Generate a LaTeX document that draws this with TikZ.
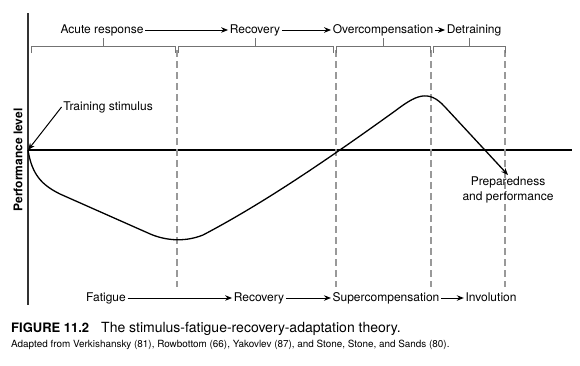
\documentclass[tikz,border=0pt]{standalone}
\usepackage{fontspec}
\setmainfont{TeX Gyre Heros}
\usetikzlibrary{arrows.meta,positioning}

\begin{document}
\begin{tikzpicture}
  [x=1pt,y=-1pt,
   every node/.style={inner sep=1.5pt,font=\fontsize{12}{15}\selectfont},
   phase/.style={text height=9pt,text depth=3pt},
   guide/.style={draw=black!40,line width=1.1pt,dash pattern=on 7pt off 4pt},
   bracket/.style={draw=black!55,line width=1pt},
   link/.style={-{Stealth[length=7pt,width=5.5pt]},line width=1pt},
   curve/.style={line width=1.3pt}]
  \useasboundingbox (0,0) rectangle (580,365);
  % axes
  \coordinate (top) at (28,13);
  \coordinate (bottom) at (28,305);
  \coordinate (origin) at (28,150);
  \coordinate (far) at (572,150);
  \draw[line width=1.8pt,black!80] (top) -- (bottom);
  \draw[line width=1.2pt] (origin) -- (far);
  \node[rotate=90,font=\fontsize{12}{15}\selectfont\bfseries] (ylab) at (18,160) {Performance level};

  % phase boundaries and brackets
  \foreach \x in {177,336,431,505}
    \draw[guide] (\x,50) -- (\x,287);
  \foreach \a/\b in {31/175,178/333,336/430,433/505}
    \draw[bracket] (\a,53) |- (\b,46) -- (\b,53) ({(\a+\b)/2},46) -- ({(\a+\b)/2},38);

  % upper sequence
  \node[phase] (acute) at (102,30) {Acute response};
  \node[phase] (rec1) at (255,30) {Recovery};
  \node[phase] (over) at (383,30) {Overcompensation};
  \node[phase] (detr) at (474,30) {Detraining};
  % lower sequence
  \node[phase] (fatigue) at (106,298) {Fatigue};
  \node[phase] (rec2) at (259,298) {Recovery};
  \node[phase] (super) at (386,298) {Supercompensation};
  \node[phase] (invol) at (491,298) {Involution};
  \foreach \from/\to in {acute/rec1,rec1/over,over/detr,fatigue/rec2,rec2/super,super/invol}
    \draw[link] (\from) -- (\to);

  % stimulus and response curve
  \node[phase] (stim) at (108,107) {Training stimulus};
  \draw[link] (stim.west) -- (origin);
  \node[align=center,anchor=north] (prep) at (508,175) {Preparedness\\and performance};
  \draw[curve,-{Stealth[length=7pt,width=5.5pt]}] (origin)
    .. controls (32,175) and (42,185) .. (60,194) -- (148,233)
    .. controls (163,240) and (183,243) .. (203,235)
    .. controls (260,205) and (320,165) .. (395,111)
    .. controls (415,96) and (428,88) .. (445,107) -- (prep.north);

  % caption
  \node[anchor=base west,inner sep=0pt,font=\fontsize{13}{15}\selectfont\bfseries] (fig) at (11,332) {FIGURE 11.2};
  \node[anchor=base west,inner sep=0pt,font=\fontsize{14}{16}\selectfont] (title) at (101,332) {The stimulus-fatigue-recovery-adaptation theory.};
  \node[anchor=base west,inner sep=0pt,font=\fontsize{9.9}{11}\selectfont] (source) at (11,347) {Adapted from Verkishansky (81), Rowbottom (66), Yakovlev (87), and Stone, Stone, and Sands (80).};
\end{tikzpicture}
\end{document}
